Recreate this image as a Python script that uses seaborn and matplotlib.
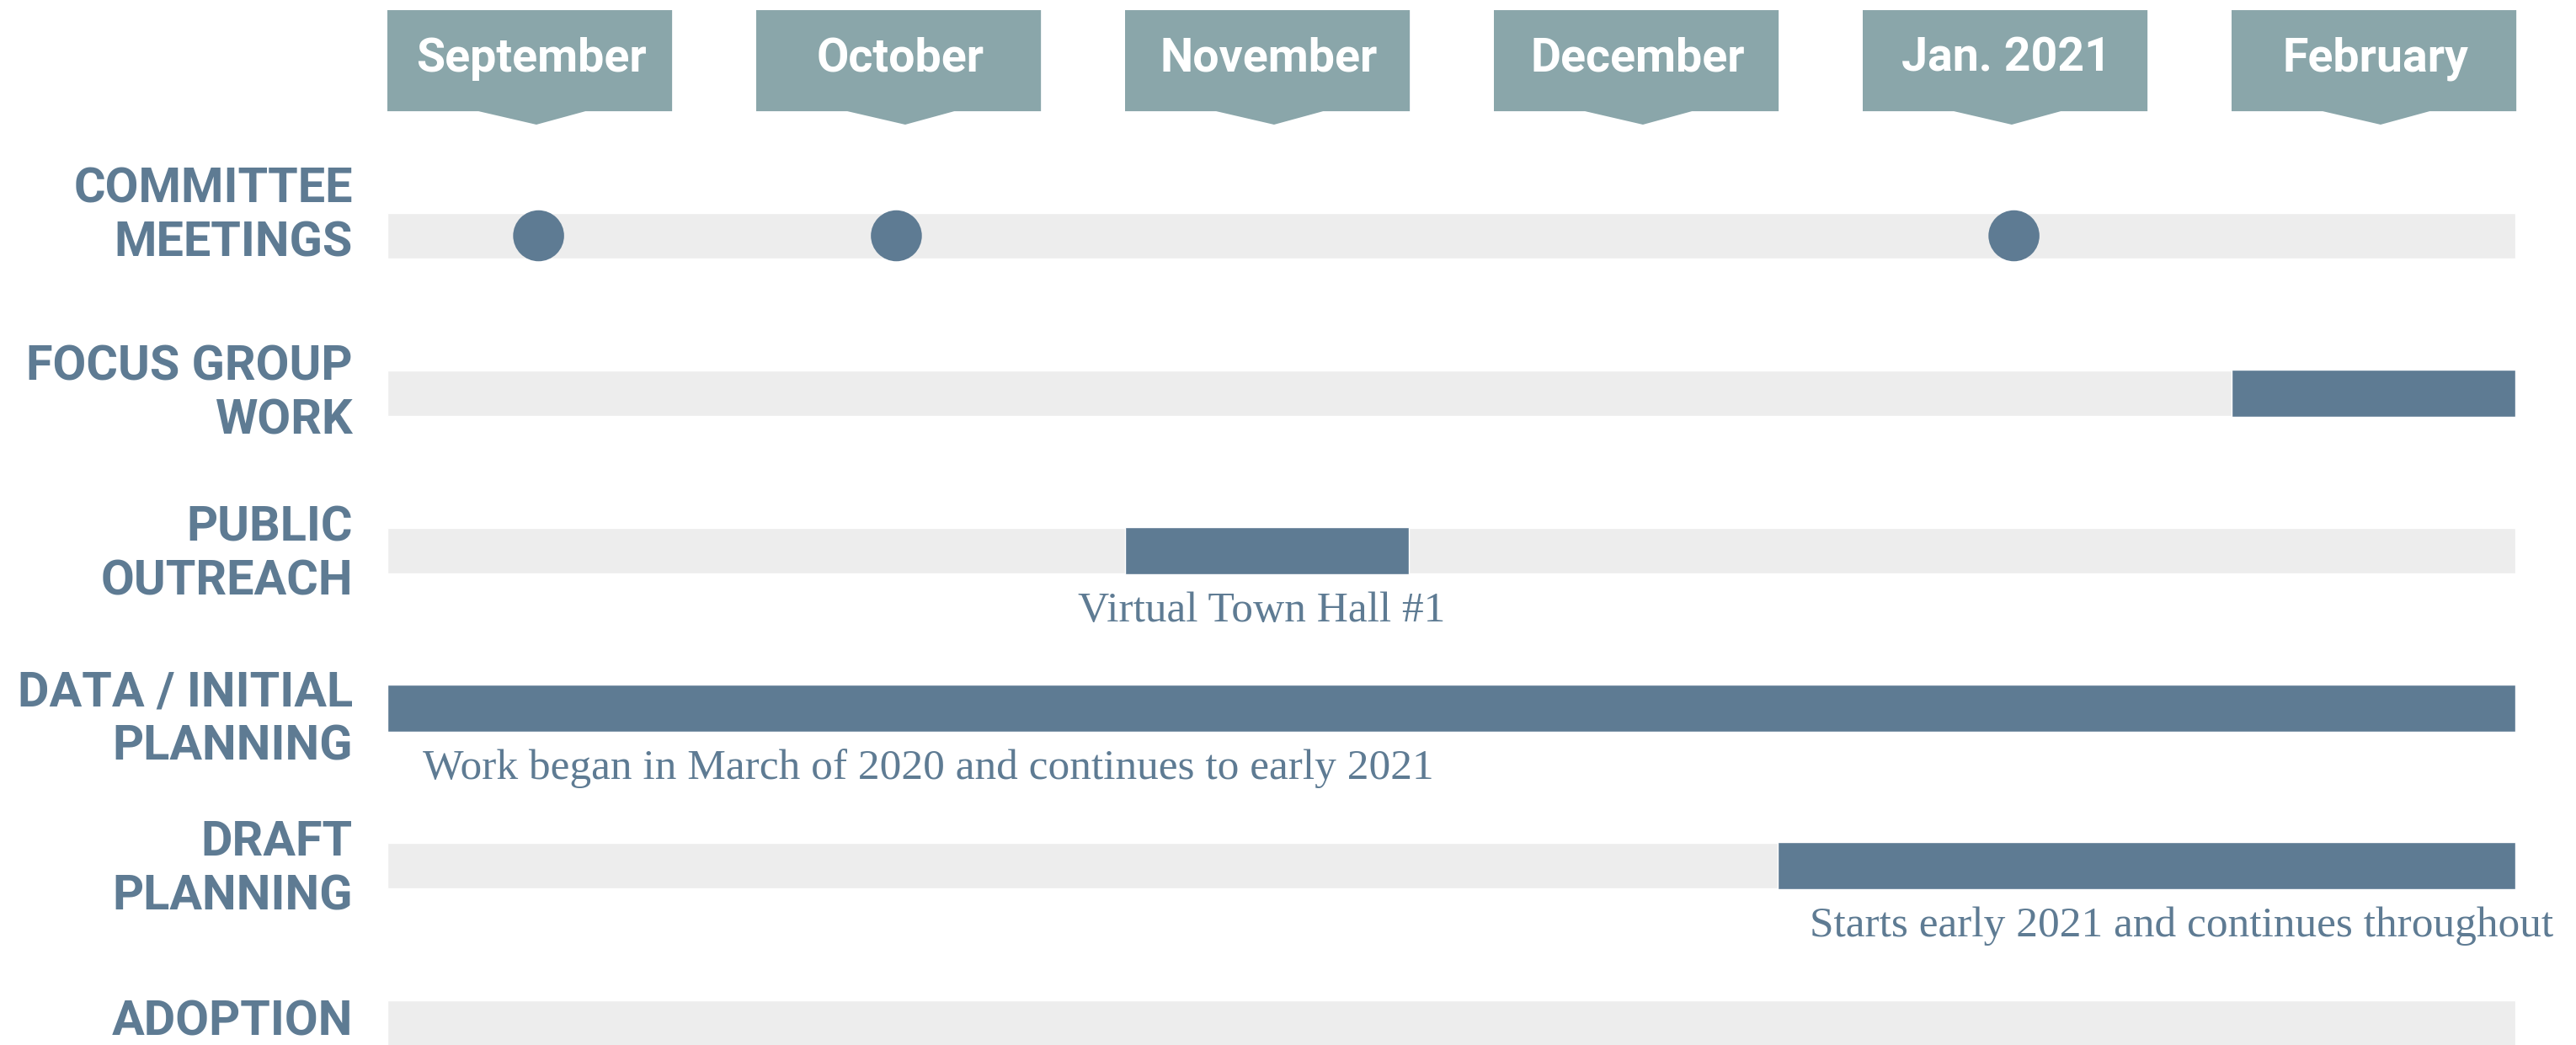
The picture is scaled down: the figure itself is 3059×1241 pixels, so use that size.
import numpy as np
import pandas as pd
import matplotlib
matplotlib.use("Agg")
import matplotlib.pyplot as plt
import seaborn as sns

# Chart data
months = ["September", "October", "November", "December", "Jan. 2021", "February"]
rows = ["COMMITTEE\nMEETINGS", "FOCUS GROUP\nWORK", "PUBLIC\nOUTREACH",
        "DATA / INITIAL\nPLANNING", "DRAFT\nPLANNING", "ADOPTION"]
track_end = [5.77, 5.77, 5.77, 5.77, 5.77, 5.77]

# tasks (month units, 0 = start of September)
task_rows = ["FOCUS GROUP\nWORK", "PUBLIC\nOUTREACH", "DATA / INITIAL\nPLANNING", "DRAFT\nPLANNING"]
task_start = [5.0, 2.0, 0.0, 3.77]
task_end = [5.77, 2.77, 5.77, 5.77]

meeting_x = [0.41, 1.38, 4.41]

notes = ["Virtual Town Hall #1",
         "Work began in March of 2020 and continues to early 2021",
         "Starts early 2021 and continues throughout"]
note_rows = ["PUBLIC\nOUTREACH", "DATA / INITIAL\nPLANNING", "DRAFT\nPLANNING"]
note_x = [2.37, 0.096, 3.856]
note_ha = ["center", "left", "left"]

# colours
TAB = "#8AA6AA"
BAR = "#5E7B93"
TRACK = "#EDEDED"
TXT = "#5E7B93"

sns.set_theme(style="white")
plt.rcParams["font.family"] = ["Roboto", "DejaVu Sans"]

fig = plt.figure(figsize=(30.59, 12.41), dpi=100)
ax = fig.add_axes([0, 0, 1, 1])

row_pos = np.arange(len(rows))
track_df = pd.DataFrame({"pos": row_pos, "end": track_end})

# grey background tracks
sns.barplot(data=track_df, x="end", y="pos", orient="h", color=TRACK,
            width=0.29, saturation=1, ax=ax, zorder=1)

# task bars
task_pos = [rows.index(r) for r in task_rows]
ax.barh(task_pos, np.array(task_end) - np.array(task_start), left=task_start,
        height=0.30, color=BAR, zorder=2)

# committee meeting dots
sns.scatterplot(x=meeting_x, y=[rows.index("COMMITTEE\nMEETINGS")] * len(meeting_x),
                s=1900, color=BAR, edgecolor="none", ax=ax, zorder=3, legend=False)

# month header tabs
TAB_W = 0.772
for i, m in enumerate(months):
    xs = [i, i + TAB_W, i + TAB_W, i + 0.537, i + 0.404, i + 0.247, i, i]
    ys = [-1.433, -1.433, -0.791, -0.791, -0.706, -0.791, -0.791, -1.433]
    ax.fill(xs, ys, color=TAB, lw=0, zorder=2)
    ax.text(i + 0.39, -1.043, m, ha="center", va="baseline", color="white",
            fontsize=40, fontweight="bold", zorder=3)

# row labels
label_shift = {"COMMITTEE\nMEETINGS": -0.15, "FOCUS GROUP\nWORK": -0.02,
               "DATA / INITIAL\nPLANNING": 0.05, "ADOPTION": -0.03}
for p, r in zip(row_pos, rows):
    c = p + label_shift.get(r, 0.0)
    lines = r.split("\n")
    if len(lines) == 1:
        offs = [0.0]
    else:
        offs = [-0.171, 0.171]
    for ln, o in zip(lines, offs):
        ax.text(-0.094, c + o + 0.109, ln, ha="right", va="baseline", color=TXT,
                fontsize=41.5, fontweight="bold")

# annotations
for t, r, x, ha in zip(notes, note_rows, note_x, note_ha):
    ax.text(x, rows.index(r) + 0.45, t, ha=ha, va="baseline", color=TXT,
            fontsize=37, family=["Liberation Serif", "DejaVu Serif"])

ax.set_xlim(-460 / 438, (3059 - 460) / 438)
ax.set_ylim((1241 - 280) / 187, -280 / 187)
ax.axis("off")

fig.savefig("out.png", dpi=100)
